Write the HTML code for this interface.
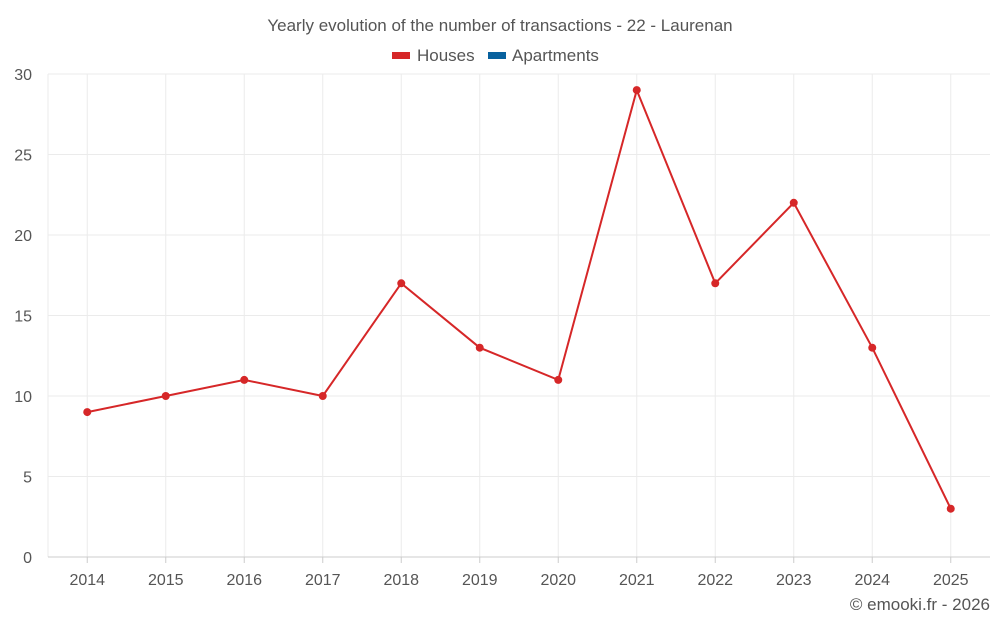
<!DOCTYPE html>
<html><head><meta charset="utf-8">
<style>
body{margin:0;background:#fff;font-family:"Liberation Sans",sans-serif;}
svg text{font-family:"Liberation Sans",sans-serif;}
</style></head>
<body>
<svg width="1000" height="625" viewBox="0 0 1000 625">
<text x="500" y="31" text-anchor="middle" font-size="17" fill="#555">Yearly evolution of the number of transactions - 22 - Laurenan</text>
<g>
<g><rect x="392" y="52" width="18" height="7" fill="#d62728"/><text x="417" y="61" font-size="17" fill="#555">Houses</text></g>
<g><rect x="488" y="52" width="18" height="7" fill="#08619e"/><text x="512" y="61" font-size="17" fill="#555">Apartments</text></g>
</g>
<g id="grid"></g>
<g id="axes"></g>
<g id="series"></g>
<text x="990" y="610" text-anchor="end" font-size="17" fill="#555">© emooki.fr - 2026</text>
</svg>
<script>
const years=["2014","2015","2016","2017","2018","2019","2020","2021","2022","2023","2024","2025"];
const houses=[9,10,11,10,17,13,11,29,17,22,13,3];
const yTicks=[0,5,10,15,20,25,30];
const NS="http://www.w3.org/2000/svg";
const L=48,R=990,T=74,B=557,YMAX=30;
const bw=(R-L)/years.length;
function xs(i){return L+bw*(i+0.5);}
function ys(v){return B-(v/YMAX)*(B-T);}
function mk(tag,attrs,parent){const e=document.createElementNS(NS,tag);for(const k in attrs)e.setAttribute(k,attrs[k]);parent.appendChild(e);return e;}
const grid=document.getElementById('grid'),axes=document.getElementById('axes'),ser=document.getElementById('series');
yTicks.forEach(t=>{
 const y=ys(t);
 if(t>0){const g=mk('line',{x1:L,x2:R,y1:y,y2:y,stroke:'#ebebeb','stroke-width':1},grid);
 
 }
 const tx=mk('text',{x:32,y:y+6,'text-anchor':'end','font-size':16,fill:'#555'},axes);tx.textContent=t;
 
 
});
years.forEach((yr,i)=>{
 const x=xs(i);
 const g=mk('line',{x1:x,x2:x,y1:T,y2:B,stroke:'#ebebeb','stroke-width':1},grid);
 
 
 const tk=mk('line',{x1:x,x2:x,y1:B,y2:B+6,stroke:'#ccc'},axes);
 
 
 const tx=mk('text',{x:x,y:B+28,'text-anchor':'middle','font-size':16,fill:'#555'},axes);tx.textContent=yr;
 
 
});
const lg=mk('line',{x1:L,x2:L,y1:T,y2:B,stroke:'#ebebeb'},grid);


const ax=mk('line',{x1:L,x2:R,y1:B,y2:B,stroke:'#ccc'},axes);


const pts=houses.map((v,i)=>xs(i)+','+ys(v)).join(' ');
const pl=mk('polyline',{points:pts,fill:'none',stroke:'#d62728','stroke-width':2},ser);


houses.forEach((v,i)=>{
 const c=mk('circle',{cx:xs(i),cy:ys(v),r:4,fill:'#d62728'},ser);
 
 
});
</script>
</body></html>
